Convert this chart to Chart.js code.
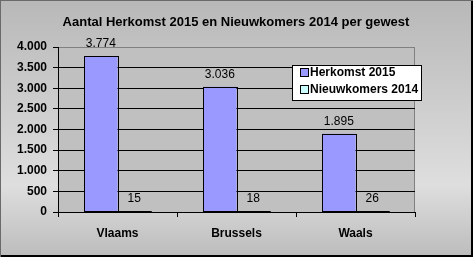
<!DOCTYPE html>
<html>
<head>
<meta charset="utf-8">
<script src="https://cdn.jsdelivr.net/npm/chart.js@4/dist/chart.umd.min.js"></script>
<style>
  html, body { margin: 0; padding: 0; background: #fff; }
  #wrap { width: 473px; height: 257px; position: relative; }
</style>
</head>
<body>
<div id="wrap"><canvas id="chart" width="473" height="257"></canvas></div>
<script>
// chart data
const regions = ["Vlaams", "Brussels", "Waals"]
const herkomst2015 = [3774, 3036, 1895]
const nieuwkomers2014 = [15, 18, 26]
const seriesNames = ["Herkomst 2015", "Nieuwkomers 2014"]
const yTicks = [0, 500, 1000, 1500, 2000, 2500, 3000, 3500, 4000]
const chartTitle = "Aantal Herkomst 2015 en Nieuwkomers 2014 per gewest"

const colors = ["#9999ff", "#ccffff"]
const font = "Liberation Sans, Arial, sans-serif"

const fmt = (v) => v.toLocaleString("nl-BE")

// background, plot area, title, bar outlines, labels and legend
const decor = {
  id: "decor",
  beforeDraw(chart) {
    const c = chart.ctx
    const W = chart.width, H = chart.height
    const g = c.createLinearGradient(0, 0, 0, H)
    g.addColorStop(0, "#b8b8b8")
    g.addColorStop(0.72, "#dedede")
    g.addColorStop(1, "#bcbcbc")
    c.save()
    c.fillStyle = g
    c.fillRect(0, 0, W, H)
    // frame
    c.fillStyle = "#000"
    c.fillRect(W - 2, 0, 2, H)
    c.fillRect(0, H - 2, W, 2)
    c.fillStyle = "#6a6a6a"
    c.fillRect(0, 0, 1, H)
    c.fillRect(0, 0, W, 1)
    // plot area
    const a = chart.chartArea
    c.fillStyle = "#c0c0c0"
    c.fillRect(a.left, a.top, a.right - a.left, a.bottom - a.top)
    c.strokeStyle = "#808080"
    c.lineWidth = 1
    c.beginPath()
    c.moveTo(a.right - 0.5, a.top)
    c.lineTo(a.right - 0.5, a.bottom)
    c.stroke()
    // title
    c.fillStyle = "#000"
    c.font = "bold 13px " + font
    c.textAlign = "center"
    c.textBaseline = "middle"
    c.fillText(chartTitle, 236, 22)
    c.restore()
  },
  afterDatasetsDraw(chart) {
    const c = chart.ctx
    c.save()
    c.strokeStyle = "#000"
    c.lineWidth = 1
    chart.data.datasets.forEach((ds, i) => {
      chart.getDatasetMeta(i).data.forEach((bar) => {
        const l = Math.round(bar.x - bar.width / 2)
        const r = Math.round(bar.x + bar.width / 2)
        const t = Math.min(Math.round(bar.y), Math.round(bar.base) - 1)
        const b = Math.round(bar.base)
        c.strokeRect(l + 0.5, t + 0.5, r - l, b - t - 1)
      })
    })
    c.fillStyle = "#000"
    c.font = "12px " + font
    c.textAlign = "center"
    c.textBaseline = "alphabetic"
    chart.data.datasets.forEach((ds, i) => {
      chart.getDatasetMeta(i).data.forEach((bar, j) => {
        c.fillText(fmt(ds.data[j]), bar.x, bar.y - 9)
      })
    })
    c.restore()
  },
  afterDraw(chart) {
    const c = chart.ctx
    c.save()
    const x = 292, y = 65, w = 130, h = 36
    c.fillStyle = "#fff"
    c.fillRect(x, y, w, h)
    c.strokeStyle = "#000"
    c.lineWidth = 1
    c.strokeRect(x + 0.5, y + 0.5, w - 1, h - 1)
    c.font = "bold 12px " + font
    c.textAlign = "left"
    c.textBaseline = "middle"
    seriesNames.forEach((name, i) => {
      const cy = y + 8 + i * 17
      c.fillStyle = colors[i]
      c.fillRect(x + 9, cy - 4, 7, 7)
      c.strokeRect(x + 8.5, cy - 4.5, 8, 8)
      c.fillStyle = "#000"
      c.fillText(name, x + 18, cy)
    })
    c.restore()
  }
}

new Chart(document.getElementById("chart"), {
  type: "bar",
  data: {
    labels: regions,
    datasets: [
      {
        label: seriesNames[0],
        data: herkomst2015,
        backgroundColor: colors[0],
        borderWidth: 0,
      },
      {
        label: seriesNames[1],
        data: nieuwkomers2014,
        backgroundColor: colors[1],
        borderWidth: 0,
      },
    ],
  },
  options: {
    responsive: false,
    animation: false,
    events: [],
    datasets: {
      bar: { categoryPercentage: 0.56, barPercentage: 1 },
    },
    layout: { padding: { left: 0, right: 58, top: 47, bottom: 0 } },
    scales: {
      y: {
        min: 0,
        max: 4000,
        afterFit: (s) => { s.width = 58 },
        afterBuildTicks: (s) => { s.ticks = yTicks.map((v) => ({ value: v })) },
        ticks: {
          color: "#000",
          padding: 6,
          font: { family: font, size: 12, weight: "bold" },
          callback: (v) => fmt(v),
        },
        grid: {
          color: (ctx) => (ctx.tick && ctx.tick.value === 4000 ? "#808080" : "#000"),
          tickColor: "#000",
          tickLength: 5,
        },
        border: { color: "#000", width: 1 },
      },
      x: {
        afterFit: (s) => { s.height = 45 },
        ticks: {
          color: "#000",
          padding: 9,
          font: { family: font, size: 12, weight: "bold" },
        },
        grid: {
          drawOnChartArea: false,
          tickColor: "#000",
          tickLength: 5,
        },
        border: { color: "#000", width: 1 },
      },
    },
    plugins: {
      legend: { display: false },
      title: { display: false },
      tooltip: { enabled: false },
    },
  },
  plugins: [decor],
})
</script>
</body>
</html>
